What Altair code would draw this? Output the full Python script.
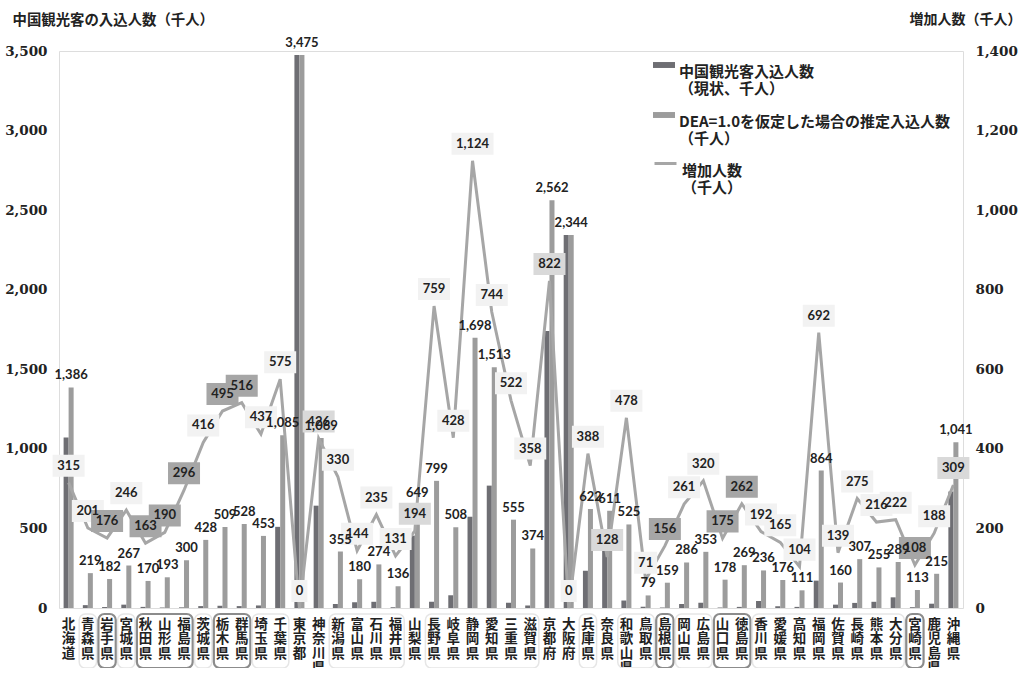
import altair as alt
import pandas as pd

prefs = ["北海道","青森県","岩手県","宮城県","秋田県","山形県","福島県","茨城県","栃木県","群馬県",
         "埼玉県","千葉県","東京都","神奈川県","新潟県","富山県","石川県","福井県","山梨県","長野県",
         "岐阜県","静岡県","愛知県","三重県","滋賀県","京都府","大阪府","兵庫県","奈良県","和歌山県",
         "鳥取県","島根県","岡山県","広島県","山口県","徳島県","香川県","愛媛県","高知県","福岡県",
         "佐賀県","長崎県","熊本県","大分県","宮崎県","鹿児島県","沖縄県"]

current = [1071,18,6,21,7,3,4,12,14,12,16,510,3475,643,25,36,39,5,455,40,
           80,574,769,33,16,1740,2344,234,483,47,8,3,25,33,3,7,44,11,7,172,
           21,32,39,67,5,27,732]
dea = [1386,219,182,267,170,193,300,428,509,528,453,1085,3475,1069,355,180,274,136,649,799,
       508,1698,1513,555,374,2562,2344,622,611,525,79,159,286,353,178,269,236,176,111,864,
       160,307,255,289,113,215,1041]
increase = [315,201,176,246,163,190,296,416,495,516,437,575,0,426,330,144,235,131,194,759,
            428,1124,744,522,358,822,0,388,128,478,71,156,261,320,175,262,192,165,104,692,
            139,275,216,222,108,188,309]
# label box style: h = highlighted, m = medium, l = light
box_style = ["l","l","h","l","h","h","h","l","h","h","l","l","l","m","l","l","l","l","m","l",
             "l","l","l","l","l","m","l","l","m","l","l","h","l","l","h","h","l","l","l","l",
             "l","l","l","l","h","l","m"]

grp_start = ["青森県","岩手県","宮城県","秋田県","茨城県","栃木県","埼玉県","新潟県","長野県",
             "兵庫県","和歌山県","島根県","岡山県","山口県","香川県","宮崎県"]
grp_end = ["青森県","岩手県","宮城県","福島県","茨城県","群馬県","千葉県","福井県","滋賀県",
           "兵庫県","鳥取県","島根県","広島県","徳島県","大分県","宮崎県"]
grp_kind = ["l","d","l","d","l","d","l","l","l","l","l","d","l","d","l","d"]

S1 = "中国観光客入込人数|（現状、千人）"
S2 = "DEA=1.0を仮定した場合の推定入込人数|（千人）"
S3 = "増加人数|（千人）"

JP = "Noto Sans CJK JP"
NUM = "Lato"
SERIF = "DejaVu Serif"

bars_df = pd.DataFrame({
    "pref": prefs * 2,
    "series": [S1] * len(prefs) + [S2] * len(prefs),
    "value": current + dea,
})
dea_df = pd.DataFrame({
    "pref": prefs, "series": S2, "value": dea,
    "label": [f"{v:,}" for v in dea],
})
inc_df = pd.DataFrame({
    "pref": prefs, "series": S3, "inc": increase, "style": box_style,
    "label": [f"{v:,}" for v in increase],
})
inc_df["len"] = inc_df["label"].str.len().astype(str)
grp_df = pd.DataFrame({"start": grp_start, "end": grp_end, "kind": grp_kind})

W, H = 904, 557

xscale = alt.Scale(domain=prefs, paddingInner=0, paddingOuter=0)
xaxis = alt.Axis(title=None, labelAngle=0, labelExpr="split(datum.label, '')",
                 labelBaseline="top", labelAlign="center", labelLineHeight=14.5,
                 labelFont=JP, labelFontSize=13.5, labelFontWeight="bold", labelColor="#222",
                 labelPadding=9, ticks=False, domain=False, labelOverlap=False, labelBound=False)
X = alt.X("pref:N", scale=xscale, axis=xaxis)
xoff = alt.XOffset("series:N", scale=alt.Scale(domain=[S1, S2], paddingInner=0, paddingOuter=0.92))

yleft_scale = alt.Scale(domain=[0, 3500], nice=False)
yleft_axis = alt.Axis(title="中国観光客の入込人数（千人）", values=[0,500,1000,1500,2000,2500,3000,3500],
                      format=",.0f", grid=False, ticks=False, domain=False,
                      labelFont=SERIF, labelFontSize=13.5, labelFontWeight="bold", labelColor="#222",
                      labelPadding=12,
                      titleAngle=0, titleX=-47, titleY=-31, titleAlign="left", titleBaseline="middle",
                      titleFont=JP, titleFontSize=14.4, titleFontWeight="bold", titleColor="#222")
yright_scale = alt.Scale(domain=[0, 1400], nice=False)
yright_axis = alt.Axis(title="増加人数（千人）", orient="right", values=[0,200,400,600,800,1000,1200,1400],
                       format=",.0f", grid=False, ticks=False, domain=False,
                       labelFont=SERIF, labelFontSize=13.5, labelFontWeight="bold", labelColor="#222",
                       labelPadding=12,
                       titleAngle=0, titleX=58, titleY=-32, titleAlign="right", titleBaseline="middle",
                       titleFont=JP, titleFontSize=14, titleFontWeight="bold", titleColor="#222")

bars = alt.Chart(bars_df).mark_bar().encode(
    x=X, xOffset=xoff,
    y=alt.Y("value:Q", scale=yleft_scale, axis=yleft_axis),
    color=alt.Color("series:N", scale=alt.Scale(domain=[S1, S2], range=["#6e6e73", "#9c9c9c"]),
                    legend=alt.Legend(orient="none", legendX=594, legendY=3, title=None,
                                      labelExpr="split(datum.label, '|')", labelFont=JP,
                                      labelFontSize=15, labelFontWeight="bold", labelColor="#222",
                                      labelLimit=500, labelBaseline="top",
                                      symbolType="M-1,-0.27H1V0.27H-1Z", symbolSize=484,
                                      symbolStrokeWidth=0, rowPadding=7, labelOffset=4, padding=0)),
)

line = alt.Chart(inc_df).mark_line(strokeWidth=3).encode(
    x=X,
    y=alt.Y("inc:Q", scale=yright_scale, axis=yright_axis),
    stroke=alt.Stroke("series:N", scale=alt.Scale(domain=[S3], range=["#a6a6a6"]),
                      legend=alt.Legend(orient="none", legendX=594, legendY=100, title=None,
                                        labelExpr="split(datum.label, '|')", labelFont=JP,
                                        labelFontSize=15, labelFontWeight="bold", labelColor="#222",
                                        labelLimit=500, labelBaseline="top",
                                        symbolType="stroke", symbolSize=484, symbolStrokeWidth=3,
                                        labelOffset=4, padding=0)),
)

box_paths = ["M-0.381,-0.524H0.381V0.524H-0.381Z",
             "M-0.548,-0.524H0.548V0.524H-0.548Z",
             "M-0.762,-0.524H0.762V0.524H-0.762Z",
             "M-1,-0.524H1V0.524H-1Z"]
boxes = alt.Chart(inc_df).mark_point(filled=True, opacity=1, size=1764, yOffset=-17, strokeWidth=0).encode(
    x=X,
    y=alt.Y("inc:Q", scale=yright_scale, axis=yright_axis),
    shape=alt.Shape("len:N", scale=alt.Scale(domain=["1", "2", "3", "5"], range=box_paths), legend=None),
    fill=alt.Fill("style:N", scale=alt.Scale(domain=["l", "m", "h"], range=["#f2f2f2", "#d9d9d9", "#a6a6a6"]),
                  legend=None),
)
inc_text = alt.Chart(inc_df).mark_text(font=NUM, fontSize=13, fontWeight="bold", color="#222",
                                       baseline="middle", yOffset=-17).encode(
    x=X,
    y=alt.Y("inc:Q", scale=yright_scale, axis=yright_axis),
    text="label:N",
)

dea_text = alt.Chart(dea_df).mark_text(font=NUM, fontSize=13, fontWeight="bold", color="#222",
                                       baseline="bottom", dy=-5).encode(
    x=X, xOffset=xoff,
    y=alt.Y("value:Q", scale=yleft_scale, axis=None),
    text="label:N",
)

groups = alt.Chart(grp_df).mark_rect(filled=False, cornerRadius=6).encode(
    x=alt.X("start:N", scale=xscale, axis=xaxis, bandPosition=0.05),
    x2=alt.X2("end:N", bandPosition=0.95),
    y=alt.value(H + 6), y2=alt.value(H + 60),
    stroke=alt.Stroke("kind:N", scale=alt.Scale(domain=["l", "d"], range=["#e6e6e6", "#8c8c8c"]), legend=None),
    strokeWidth=alt.StrokeWidth("kind:N", scale=alt.Scale(domain=["l", "d"], range=[1.5, 2.2]), legend=None),
)

left = alt.layer(bars)
right = alt.layer(line, boxes, inc_text)

chart = alt.layer(left, right, dea_text, groups).resolve_scale(
    y="independent", stroke="independent"
).properties(
    width=W, height=H,
    autosize=alt.AutoSizeParams(type="none"),
    padding={"left": 59, "top": 51, "right": 60, "bottom": 60},
).configure_view(stroke="#222", strokeWidth=1.5).configure(background="white")

chart.save("out.html", embed_options={"renderer": "svg", "actions": False})
